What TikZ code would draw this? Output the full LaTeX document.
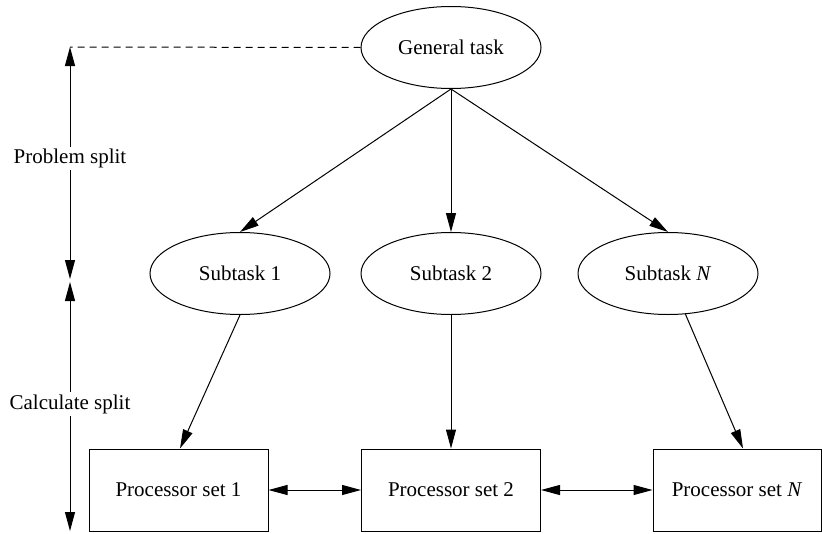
\documentclass[tikz,border=0pt]{standalone}
\usepackage{fontspec}
\setmainfont{Liberation Serif}
\usetikzlibrary{shapes.geometric,arrows.meta}
\begin{document}
\begin{tikzpicture}[x=1pt,y=-1pt,
  ell/.style={draw,ellipse,line width=1pt,minimum width=180pt,minimum height=82pt,inner sep=0pt,font=\fontsize{21}{24}\selectfont},
  boxn/.style={draw,rectangle,line width=1pt,minimum width=179pt,minimum height=82pt,inner sep=0pt,font=\fontsize{21}{24}\selectfont},
  arr/.style={line width=1pt,-{Triangle[length=19pt,width=10pt]}},
  darr/.style={line width=1pt,{Triangle[length=19pt,width=10pt]}-{Triangle[length=19pt,width=10pt]}},
  lbl/.style={fill=white,inner sep=2pt,font=\fontsize{21}{24}\selectfont}]
\useasboundingbox (0,0) rectangle (822,533);
\node[ell] (g) at (451,47.5) {General task};
\node[ell] (s1) at (240,273.5) {Subtask 1};
\node[ell] (s2) at (451,273.5) {Subtask 2};
\node[ell] (sn) at (668,273.5) {Subtask \textit{N}};
\node[boxn] (p1) at (178.5,490) {Processor set 1};
\node[boxn] (p2) at (451,490) {Processor set 2};
\node[boxn,minimum width=168pt] (pn) at (737,490) {Processor set \textit{N}};
\coordinate (top) at (70,47);
\coordinate (mid1) at (70,279);
\coordinate (mid2) at (70,282);
\coordinate (bot) at (70,531);
\draw[line width=1pt,dashed,dash pattern=on 7pt off 5pt] (g.west) -- (top);
\draw[darr] (top) -- node[lbl,pos=0.48] (ps) {Problem split} (mid1);
\draw[darr] (mid2) -- node[lbl,pos=0.49] (cs) {Calculate split} (bot);
\draw[arr] (g.south) -- (s1.north);
\draw[arr] (g.south) -- (s2.north);
\draw[arr] (g.south) -- (sn.north);
\draw[arr] (s1.south) -- (p1.north -| 180,0);
\draw[arr] (s2.south) -- (p2.north);
\draw[arr] (sn) -- (pn.north -| 743,0);
\draw[darr] (p1.east) -- (p2.west);
\draw[darr] (p2.east) -- (pn.west);
\end{tikzpicture}
\end{document}
